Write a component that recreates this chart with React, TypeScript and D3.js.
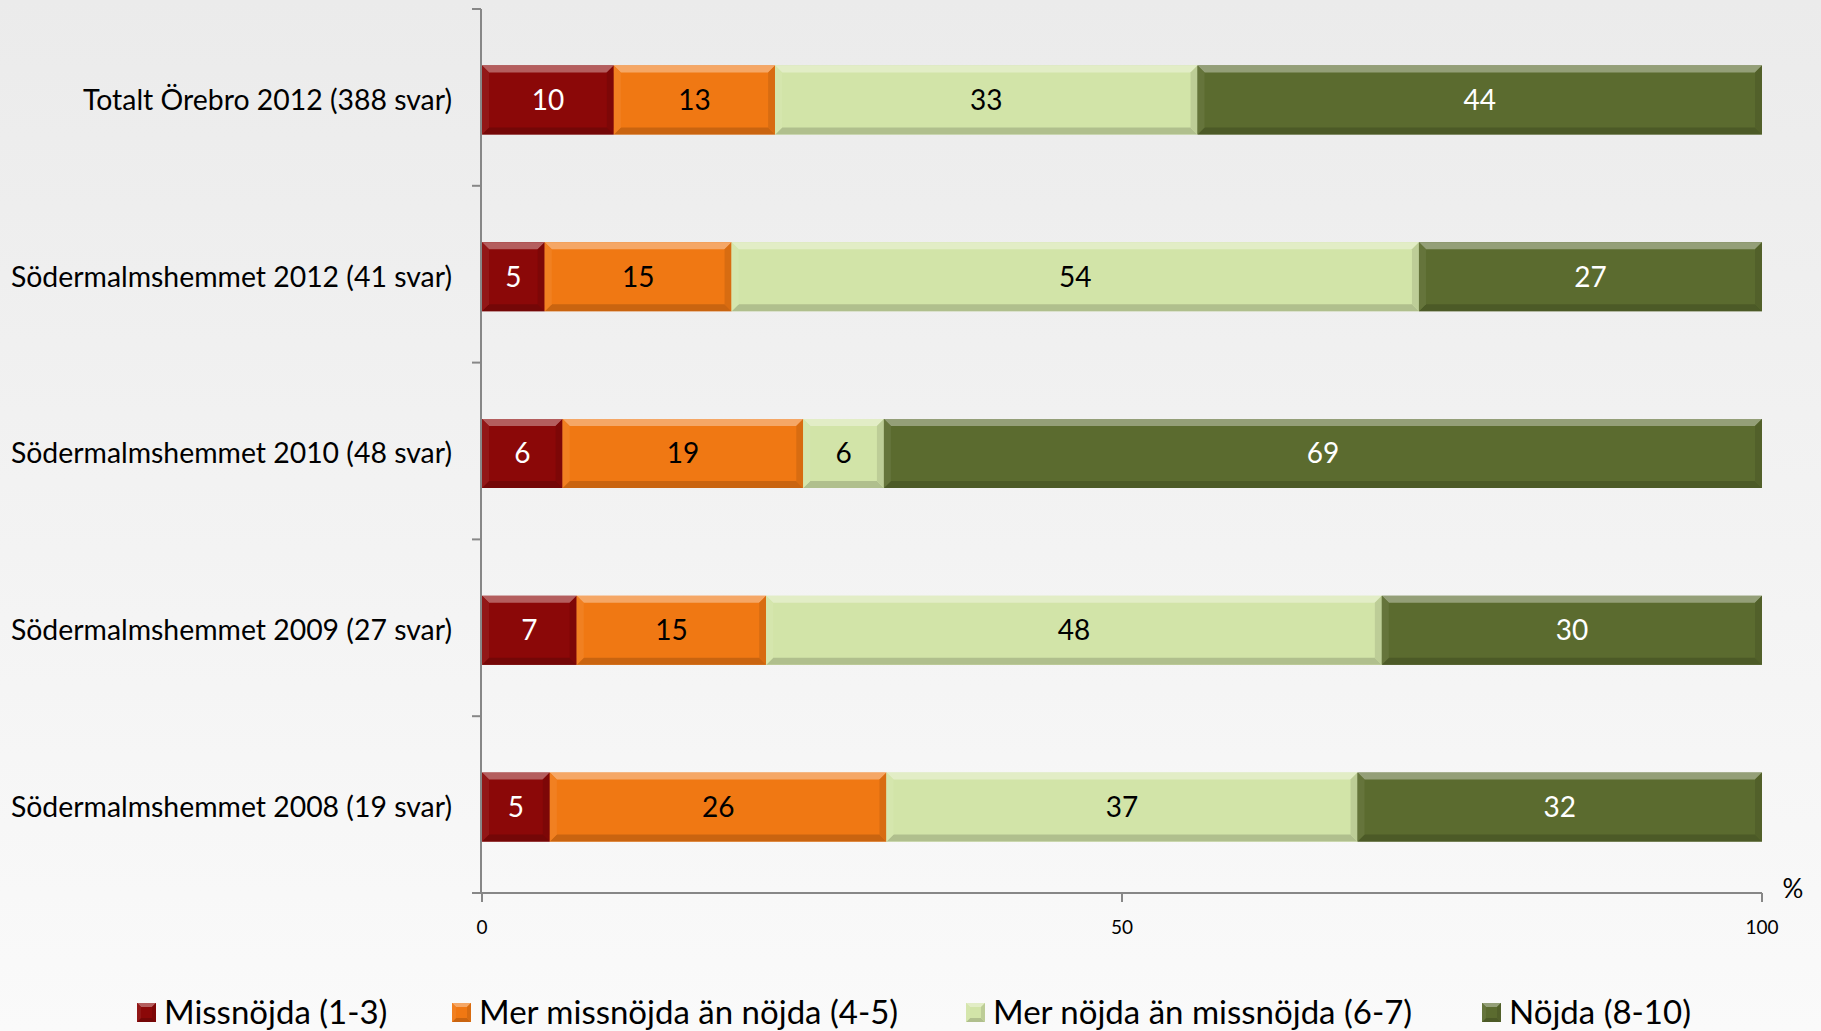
import React from "react";
import * as d3 from "d3";

const categories = [
  "Totalt Örebro 2012 (388 svar)",
  "Södermalmshemmet 2012 (41 svar)",
  "Södermalmshemmet 2010 (48 svar)",
  "Södermalmshemmet 2009 (27 svar)",
  "Södermalmshemmet 2008 (19 svar)",
];
const seriesNames = [
  "Missnöjda (1-3)",
  "Mer missnöjda än nöjda (4-5)",
  "Mer nöjda än missnöjda (6-7)",
  "Nöjda (8-10)",
];
const missnojda = [10.3, 4.9, 6.3, 7.4, 5.3];
const merMissnojda = [12.6, 14.6, 18.8, 14.8, 26.3];
const merNojda = [33.0, 53.7, 6.3, 48.1, 36.8];
const nojda = [44.1, 26.8, 68.6, 29.7, 31.6];
const xTicks = [0, 50, 100];

const seriesValues = [missnojda, merMissnojda, merNojda, nojda];
const colors = ["#8b0808", "#f07813", "#d2e4a8", "#5b6b2f"];
const labelColors = ["#ffffff", "#000000", "#000000", "#ffffff"];

const W = 1821;
const H = 1031;
const FONT = "Lato, 'Open Sans', sans-serif";

function Bevel({ x, y, w, h, color, b }: { x: number; y: number; w: number; h: number; color: string; b: number }) {
  const bb = Math.min(b, w / 3, h / 3);
  const c = d3.color(color)!;
  const top = d3.interpolateRgb(color, "#ffffff")(0.35);
  const bottom = c.darker(0.5).formatHex();
  const right = c.darker(0.3).formatHex();
  const left = d3.interpolateRgb(color, "#ffffff")(0.06);
  const pts = (arr: number[][]) => arr.map((p) => p.join(",")).join(" ");
  return (
    <g>
      <rect x={x} y={y} width={w} height={h} fill={color} />
      <polygon points={pts([[x, y], [x + w, y], [x + w - bb, y + bb], [x + bb, y + bb]])} fill={top} />
      <polygon points={pts([[x, y + h], [x + w, y + h], [x + w - bb, y + h - bb], [x + bb, y + h - bb]])} fill={bottom} />
      <polygon points={pts([[x, y], [x + bb, y + bb], [x + bb, y + h - bb], [x, y + h]])} fill={left} />
      <polygon points={pts([[x + w, y], [x + w - bb, y + bb], [x + w - bb, y + h - bb], [x + w, y + h]])} fill={right} />
    </g>
  );
}

export default function App() {
  const plotLeft = 481;
  const plotRight = 1762;
  const plotTop = 9;
  const plotBottom = 893;
  const barOffset = 2.5;

  const x = d3.scaleLinear().domain([0, 100]).range([plotLeft + 1, plotRight]);
  const y = d3
    .scaleBand<string>()
    .domain(categories)
    .range([plotTop, plotBottom])
    .paddingInner(0.61)
    .paddingOuter(0.305);

  const stackData = categories.map((c, i) => {
    const row: any = { cat: c };
    seriesNames.forEach((s, j) => (row[s] = seriesValues[j][i]));
    return row;
  });
  const stacked = d3.stack<any>().keys(seriesNames)(stackData);

  const step = (plotBottom - plotTop) / categories.length;
  const boundaries = d3.range(categories.length + 1).map((i) => plotTop + i * step);

  const legendX = [137, 452, 966, 1482];
  const legendY = 1012;

  return (
    <svg width={W} height={H} style={{ position: "fixed", left: 0, top: 0 }} fontFamily={FONT}>
      <defs>
        <linearGradient id="bg" x1="0" y1="0" x2="0" y2="1">
          <stop offset="0" stopColor="#ebebeb" />
          <stop offset="1" stopColor="#fafafa" />
        </linearGradient>
      </defs>
      <rect x={0} y={0} width={W} height={H} fill="url(#bg)" />

      {/* bars */}
      {stacked.map((layer, j) =>
        layer.map((d, i) => {
          const x0 = x(d[0]);
          const x1 = x(d[1]);
          const yy = y(categories[i])! + barOffset;
          const h = y.bandwidth();
          return (
            <g key={`${j}-${i}`}>
              <Bevel x={x0} y={yy} w={x1 - x0} h={h} color={colors[j]} b={7} />
              <text
                x={(x0 + x1) / 2}
                y={yy + h / 2}
                dy="0.35em"
                textAnchor="middle"
                fontSize={28}
                fill={labelColors[j]}
              >
                {Math.round(d[1] - d[0])}
              </text>
            </g>
          );
        })
      )}

      {/* y axis */}
      <line x1={plotLeft} x2={plotLeft} y1={plotTop} y2={plotBottom} stroke="#878787" strokeWidth={2} />
      {boundaries.map((b, i) => (
        <line key={i} x1={plotLeft - 9} x2={plotLeft} y1={b} y2={b} stroke="#878787" strokeWidth={2} />
      ))}
      {categories.map((c) => (
        <text
          key={c}
          x={452}
          y={y(c)! + barOffset + y.bandwidth() / 2}
          dy="0.35em"
          textAnchor="end"
          fontSize={28.4}
          fill="#000"
        >
          {c}
        </text>
      ))}

      {/* x axis */}
      <line x1={plotLeft - 9} x2={plotRight} y1={plotBottom} y2={plotBottom} stroke="#878787" strokeWidth={2} />
      {xTicks.map((t) => (
        <g key={t}>
          <line x1={x(t)} x2={x(t)} y1={plotBottom} y2={plotBottom + 9} stroke="#878787" strokeWidth={2} />
          <text x={x(t)} y={927} dy="0.35em" textAnchor="middle" fontSize={19} fill="#000">
            {t}
          </text>
        </g>
      ))}
      <text x={1793} y={889} dy="0.35em" textAnchor="middle" fontSize={26} fill="#000">
        %
      </text>

      {/* legend */}
      {seriesNames.map((s, j) => (
        <g key={s}>
          <Bevel x={legendX[j]} y={legendY - 9} w={19} h={19} color={colors[j]} b={4} />
          <text x={legendX[j] + 27} y={legendY} dy="0.35em" fontSize={33} fill="#000">
            {s}
          </text>
        </g>
      ))}
    </svg>
  );
}
